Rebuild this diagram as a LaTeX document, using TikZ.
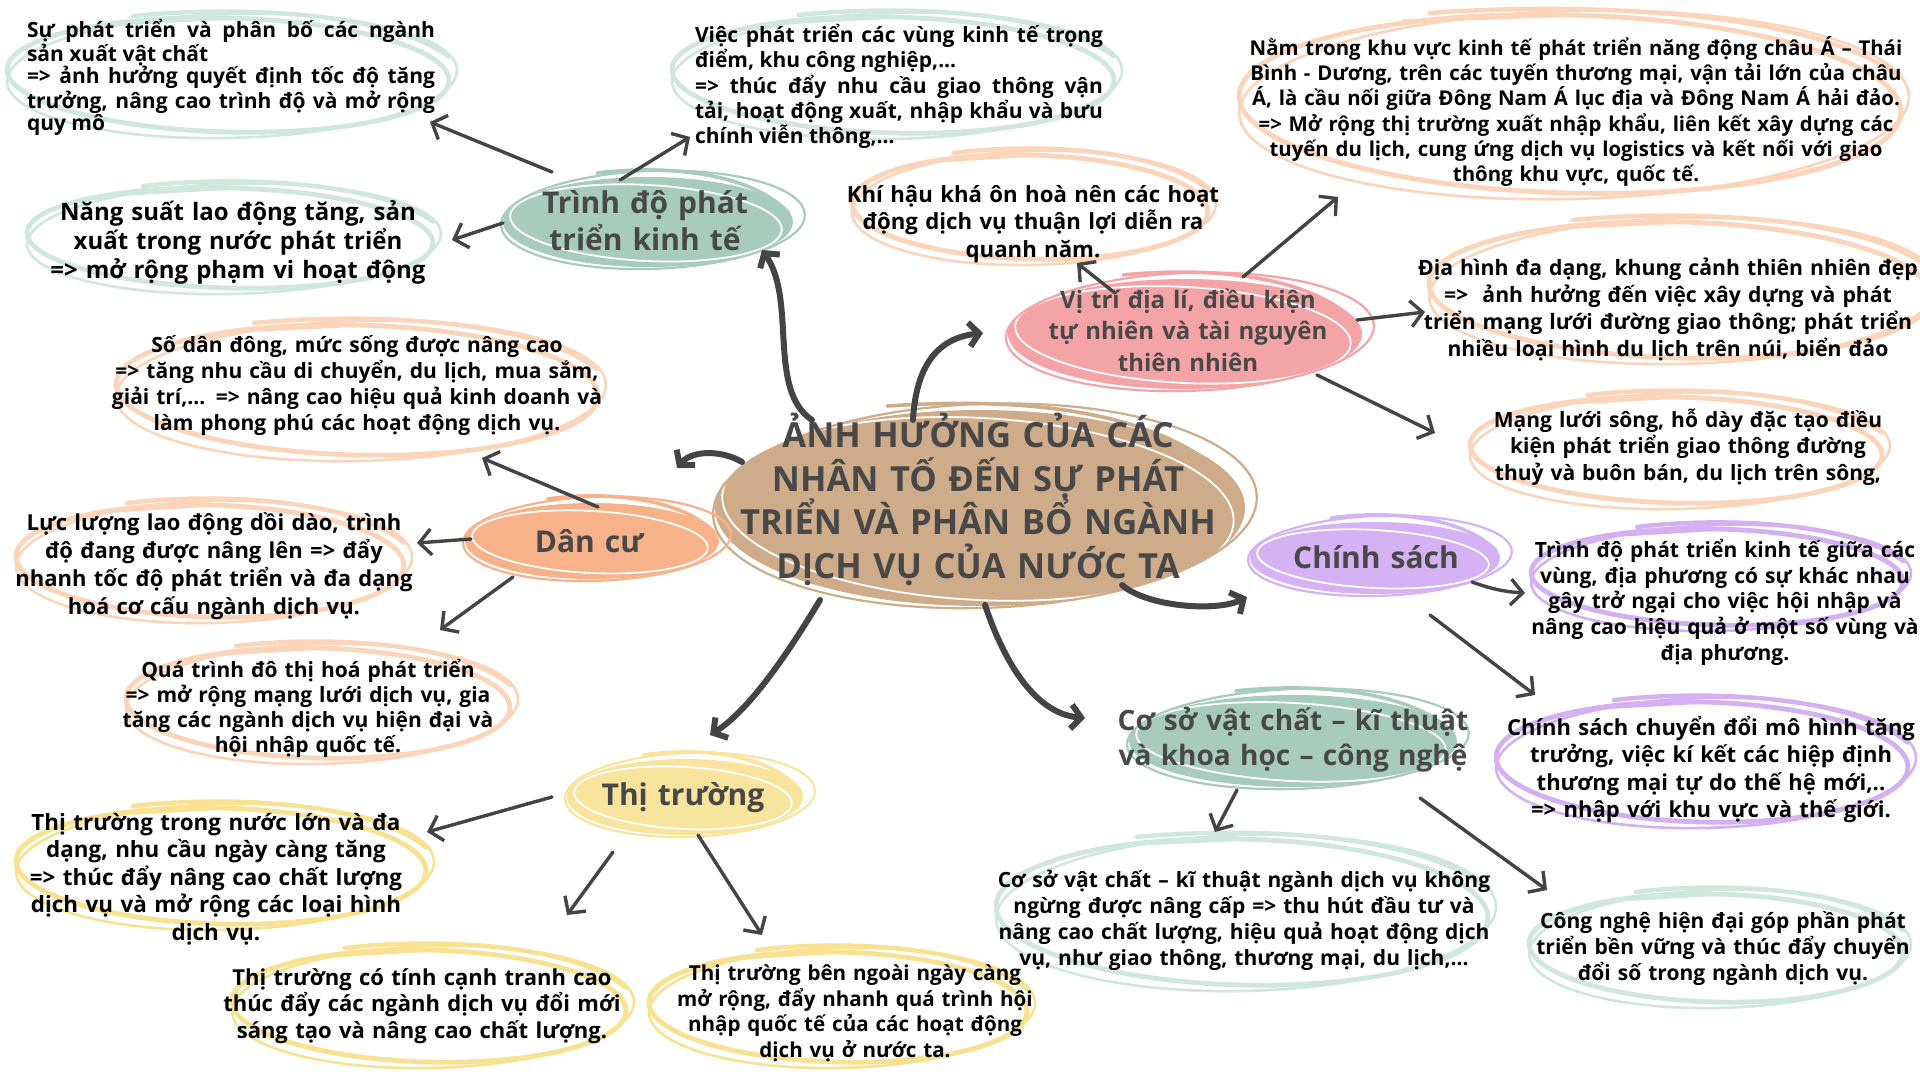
\documentclass[tikz,border=0pt]{standalone}
\usepackage{fontspec}
\setmainfont{Open Sans}
\usetikzlibrary{calc,arrows.meta,shapes.geometric}
\definecolor{grL}{RGB}{207,231,221}
\definecolor{grF}{RGB}{167,203,189}
\definecolor{orL}{RGB}{252,212,186}
\definecolor{orF}{RGB}{248,178,138}
\definecolor{pkF}{RGB}{244,164,166}
\definecolor{tanF}{RGB}{207,172,137}
\definecolor{puL}{RGB}{212,176,242}
\definecolor{puF}{RGB}{212,178,243}
\definecolor{yeL}{RGB}{248,226,145}
\definecolor{yeF}{RGB}{248,228,156}
\definecolor{arr}{RGB}{68,68,68}
\definecolor{hd}{RGB}{72,72,72}
\hyphenpenalty=10000 \exhyphenpenalty=10000 \tolerance=10000
\lineskiplimit=-40pt \lineskip=0pt
\newcommand\topstr{\rule{0pt}{1.25em}}
% sketchy outline bubble: cx, cy, rx, ry, colour
\newcommand\ring[5]{%
 \draw[#5, line width=2.4pt, rotate around={-1.5:(#1,#2)}] (#1,#2) ellipse [x radius={#3-4}, y radius={#4-5}];
 \draw[#5, line width=1.3pt, rotate around={1.5:(#1,#2)}] (#1+4,#2+1) ellipse [x radius={#3}, y radius={#4}];
 \draw[#5, line width=2.2pt, line cap=round] (#1-0.42*#3,#2-#4+3) .. controls (#1,#2-#4-7) and (#1+0.7*#3,#2-#4-3) .. (#1+0.98*#3,#2-0.3*#4);
 \draw[#5, line width=1.6pt, line cap=round] (#1-0.5*#3,#2-#4+11) -- (#1+0.02*#3,#2-#4+5);
}
% filled heading bubble: cx, cy, rx, ry, colour
\newcommand\blob[5]{%
 \fill[#5] (#1,#2) ellipse [x radius={#3}, y radius={#4}];
 \draw[white, line width=0.9pt, rotate around={-3:(#1,#2)}] (#1-2,#2+1) ellipse [x radius={#3-9}, y radius={#4-7}];
 \draw[#5, line width=1.1pt, rotate around={2:(#1,#2)}] (#1+5,#2-2) ellipse [x radius={#3+7}, y radius={#4+4}];
 \draw[#5, line width=1.8pt, line cap=round] (#1-0.35*#3,#2-#4-4) .. controls (#1+0.1*#3,#2-#4-12) and (#1+0.7*#3,#2-#4-6) .. (#1+0.97*#3,#2-0.2*#4);
}
\tikzset{
 hole/.style={ellipse, draw=none, inner sep=0pt},
 tx/.style 2 args={font=\bfseries\fontsize{#1}{#2}\selectfont, inner sep=0pt, anchor=north, align=center, text=black, text width=340pt},
 hx/.style 2 args={tx={#1}{#2}, text=hd},
 jx/.style 2 args={tx={#1}{#2}, align=justify, text width=204pt},
 thin/.style={draw=arr, line width=1.7pt, line cap=round, -{Straight Barb[length=6pt,width=13pt]}},
 bold/.style={draw=arr, line width=3pt, line cap=round, -{Straight Barb[length=5pt,width=12pt]}},
}
\begin{document}
\begin{tikzpicture}[x=0.5pt,y=-0.5pt]
\useasboundingbox (0,0) rectangle (1920,1080);
\fill[white] (0,0) rectangle (1920,1080);
% ---- invisible ellipse nodes (for connectors)
\node[hole, minimum width=225pt, minimum height=62pt] (sxvc) at (228,75) {};
\node[hole, minimum width=207pt, minimum height=55pt] (nsld) at (230,238) {};
\node[hole, minimum width=145pt, minimum height=45pt] (tdkt) at (648,222) {};
\node[hole, minimum width=225pt, minimum height=63pt] (vpt) at (893,75) {};
\node[hole, minimum width=182pt, minimum height=57pt] (khkh) at (1030,207) {};
\node[hole, minimum width=335pt, minimum height=94pt] (nam) at (1570,104) {};
\node[hole, minimum width=177pt, minimum height=55pt] (vt) at (1185,334) {};
\node[hole, minimum width=255pt, minimum height=73pt] (dh) at (1680,290) {};
\node[hole, minimum width=210pt, minimum height=58pt] (ml) at (1676,450) {};
\node[hole, minimum width=265pt, minimum height=98pt] (main) at (980,508) {};
\node[hole, minimum width=125pt, minimum height=36pt] (cs) at (1375,558) {};
\node[hole, minimum width=190pt, minimum height=53pt] (cs1) at (1717,577) {};
\node[hole, minimum width=210pt, minimum height=65pt] (cs2) at (1702,762) {};
\node[hole, minimum width=164pt, minimum height=46pt] (csvc) at (1293,741) {};
\node[hole, minimum width=250pt, minimum height=78pt] (csvc1) at (1242,912) {};
\node[hole, minimum width=191pt, minimum height=59pt] (cn) at (1716,948) {};
\node[hole, minimum width=118pt, minimum height=38pt] (tt) at (685,797) {};
\node[hole, minimum width=209pt, minimum height=63pt] (tt1) at (221,866) {};
\node[hole, minimum width=201pt, minimum height=61pt] (tt2) at (429,1006) {};
\node[hole, minimum width=193pt, minimum height=60pt] (tt3) at (838,1007) {};
\node[hole, minimum width=127pt, minimum height=38pt] (dc) at (592,541) {};
\node[hole, minimum width=245pt, minimum height=70pt] (sd) at (357,390) {};
\node[hole, minimum width=198pt, minimum height=61pt] (ll) at (210,561) {};
\node[hole, minimum width=196pt, minimum height=60pt] (dth) at (318,703) {};
% ---- bubbles
\ring{228}{75}{225}{62}{grL}
\ring{230}{238}{207}{55}{grL}
\ring{893}{75}{225}{63}{grL}
\ring{1030}{207}{182}{57}{orL}
\ring{1570}{104}{335}{94}{orL}
\ring{1680}{290}{255}{73}{orL}
\ring{1676}{450}{210}{58}{orL}
\ring{1717}{577}{190}{53}{puL}
\ring{1702}{762}{210}{65}{puL}
\ring{1242}{912}{250}{78}{grL}
\ring{1716}{948}{191}{59}{grL}
\ring{221}{866}{209}{63}{yeL}
\ring{429}{1006}{201}{61}{yeL}
\ring{838}{1007}{193}{60}{yeL}
\ring{357}{390}{245}{70}{orL}
\ring{210}{561}{198}{61}{orL}
\ring{318}{703}{196}{60}{orL}
\blob{648}{222}{145}{45}{grF}
\blob{1185}{334}{177}{55}{pkF}
\blob{980}{508}{265}{98}{tanF}
\blob{1375}{558}{125}{36}{puF}
\blob{1293}{741}{164}{46}{grF}
\blob{685}{797}{118}{38}{yeF}
\blob{592}{541}{127}{38}{orF}
% ---- main connectors
\draw[bold] ($(main)+(-168,-88)$) .. controls +(-45,-30) and +(35,50) .. ($(tdkt)+(114,28)$);
\draw[bold] ($(main)+(-67,-88)$) .. controls +(3,-55) and +(-45,5) .. ($(vt)+(-202,-1)$);
\draw[bold] ($(main)+(-238,-46)$) .. controls +(-20,-12) and +(15,-18) .. ($(dc)+(85,-73)$);
\draw[bold] ($(main)+(-160,92)$) .. controls +(-30,50) and +(40,-25) .. ($(tt)+(25,-62)$);
\draw[bold] ($(main)+(142,77)$) .. controls +(25,22) and +(-30,15) .. ($(cs)+(-128,39)$);
\draw[bold] ($(main)+(5,97)$) .. controls +(15,45) and +(-55,-5) .. ($(csvc)+(-208,-23)$);
% ---- branch connectors
\draw[thin] ($(tdkt)+(-96,-50)$) -- ($(sxvc)+(202,47)$);
\draw[thin] ($(tdkt)+(-145,1)$) -- ($(nsld)+(222,2)$);
\draw[thin] ($(tdkt)+(-28,-42)$) -- ($(vpt)+(-203,62)$);
\draw[thin] ($(vt)+(-70,-41)$) -- ($(khkh)+(47,56)$);
\draw[thin] ($(vt)+(58,-57)$) -- ($(nam)+(-232,93)$);
\draw[thin] ($(vt)+(172,-14)$) -- ($(dh)+(-255,22)$);
\draw[thin] ($(vt)+(132,41)$) -- ($(ml)+(-241,-17)$);
\draw[thin] ($(cs)+(97,24)$) to[bend right=8] ($(cs1)+(-192,16)$);
\draw[thin] ($(cs)+(55,57)$) -- ($(cs2)+(-167,-67)$);
\draw[thin] ($(csvc)+(-56,49)$) -- ($(csvc1)+(-27,-80)$);
\draw[thin] ($(csvc)+(127,57)$) -- ($(cn)+(-169,-58)$);
\draw[thin] ($(dc)+(6,-34)$) -- ($(sd)+(125,68)$);
\draw[thin] ($(dc)+(-121,-2)$) -- ($(ll)+(207,-18)$);
\draw[thin] ($(dc)+(-79,36)$) -- ($(dth)+(122,-73)$);
\draw[thin] ($(tt)+(-133,0)$) -- ($(tt1)+(206,-34)$);
\draw[thin] ($(tt)+(-72,55)$) -- ($(tt2)+(138,-91)$);
\draw[thin] ($(tt)+(13,38)$) -- ($(tt3)+(-76,-72)$);
% ---- texts
\node[jx={10.5}{11}] (sxvc-t) at (231,10.75) {\topstr Sự phát triển và phân bố các ngành\linebreak sản xuất vật chất\\=> ảnh hưởng quyết định tốc độ tăng\linebreak trưởng, nâng cao trình độ và mở rộng\linebreak quy mô};
\node[tx={12}{14.5}] (nsld-t) at (238,190) {\topstr Năng suất lao động tăng, sản\\ xuất trong nước phát triển\\ => mở rộng phạm vi hoạt động};
\node[hx={15}{18.5}] (tdkt-t) at (645,175.5) {\topstr Trình độ phát\\ triển kinh tế};
\node[jx={10.5}{10.85}] (vpt-t) at (899,15.75) {\topstr Việc phát triển các vùng kinh tế trọng\linebreak điểm, khu công nghiệp,...\\=> thúc đẩy nhu cầu giao thông vận\linebreak tải, hoạt động xuất, nhập khẩu và bưu\linebreak chính viễn thông,...};
\node[tx={11.1}{13.75}] (khkh-t) at (1033,174.25) {\topstr Khí hậu khá ôn hoà nên các hoạt\\ động dịch vụ thuận lợi diễn ra\\ quanh năm.};
\node[tx={10.2}{12.65}] (nam-t) at (1576,29.5) {\topstr Nằm trong khu vực kinh tế phát triển năng động châu Á – Thái\\ Bình - Dương, trên các tuyến thương mại, vận tải lớn của châu\\ Á, là cầu nối giữa Đông Nam Á lục địa và Đông Nam Á hải đảo.\\ => Mở rộng thị trường xuất nhập khẩu, liên kết xây dựng các\\ tuyến du lịch, cung ứng dịch vụ logistics và kết nối với giao\\ thông khu vực, quốc tế.};
\node[hx={12}{15.75}] (vt-t) at (1188,278) {\topstr Vị trí địa lí, điều kiện\\ tự nhiên và tài nguyên\\ thiên nhiên};
\node[tx={10.6}{13.5}] (dh-t) at (1668,248.5) {\topstr Địa hình đa dạng, khung cảnh thiên nhiên đẹp\\ =>\ \ ảnh hưởng đến việc xây dựng và phát\\ triển mạng lưới đường giao thông; phát triển\\ nhiều loại hình du lịch trên núi, biển đảo};
\node[tx={10.5}{13.25}] (ml-t) at (1688,400.75) {\topstr Mạng lưới sông, hỗ dày đặc tạo điều\\ kiện phát triển giao thông đường\\ thuỷ và buôn bán, du lịch trên sông,};
\node[hx={17.3}{21.85}] (main-t) at (978,403.75) {\topstr ẢNH HƯỞNG CỦA CÁC\\ NHÂN TỐ ĐẾN SỰ PHÁT\\ TRIỂN VÀ PHÂN BỔ NGÀNH\\ DỊCH VỤ CỦA NƯỚC TA};
\node[hx={15}{18}] (cs-t) at (1376,530.5) {\topstr Chính sách};
\node[tx={10.5}{12.85}] (cs1-t) at (1725,530.75) {\topstr Trình độ phát triển kinh tế giữa các\\ vùng, địa phương có sự khác nhau\\ gây trở ngại cho việc hội nhập và\\ nâng cao hiệu quả ở một số vùng và\\ địa phương.};
\node[tx={11}{13.75}] (cs2-t) at (1711,707.5) {\topstr Chính sách chuyển đổi mô hình tăng\\ trưởng, việc kí kết các hiệp định\\ thương mại tự do thế hệ mới,..\\ => nhập với khu vực và thế giới.};
\node[hx={14}{17.5}] (csvc-t) at (1293,695) {\topstr Cơ sở vật chất – kĩ thuật\\ và khoa học – công nghệ};
\node[tx={10.5}{13}] (csvc1-t) at (1244,860.75) {\topstr Cơ sở vật chất – kĩ thuật ngành dịch vụ không\\ ngừng được nâng cấp => thu hút đầu tư và\\ nâng cao chất lượng, hiệu quả hoạt động dịch\\ vụ, như giao thông, thương mại, du lịch,...};
\node[tx={10.5}{13}] (cn-t) at (1723,901.75) {\topstr Công nghệ hiện đại góp phần phát\\ triển bền vững và thúc đẩy chuyển\\ đổi số trong ngành dịch vụ.};
\node[hx={15}{18}] (tt-t) at (683,767.5) {\topstr Thị trường};
\node[tx={11.2}{13.75}] (tt1-t) at (216,802) {\topstr Thị trường trong nước lớn và đa\\ dạng, nhu cầu ngày càng tăng\\ => thúc đẩy nâng cao chất lượng\\ dịch vụ và mở rộng các loại hình\\ dịch vụ.};
\node[tx={11}{13.25}] (tt2-t) at (422,957.5) {\topstr Thị trường có tính cạnh tranh cao\\ thúc đẩy các ngành dịch vụ đổi mới\\ sáng tạo và nâng cao chất lượng.};
\node[tx={10.3}{12.85}] (tt3-t) at (855,954.25) {\topstr Thị trường bên ngoài ngày càng\\ mở rộng, đẩy nhanh quá trình hội\\ nhập quốc tế của các hoạt động\\ dịch vụ ở nước ta.};
\node[hx={15}{18}] (dc-t) at (589,514.5) {\topstr Dân cư};
\node[tx={10.5}{13}] (sd-t) at (357,325.75) {\topstr Số dân đông, mức sống được nâng cao\\ => tăng nhu cầu di chuyển, du lịch, mua sắm,\\ giải trí,... => nâng cao hiệu quả kinh doanh và\\ làm phong phú các hoạt động dịch vụ.};
\node[tx={11}{14}] (ll-t) at (214,502.5) {\topstr Lực lượng lao động dồi dào, trình\\ độ đang được nâng lên => đẩy\\ nhanh tốc độ phát triển và đa dạng\\ hoá cơ cấu ngành dịch vụ.};
\node[tx={10.5}{12.5}] (dth-t) at (308,650.75) {\topstr Quá trình đô thị hoá phát triển\\ => mở rộng mạng lưới dịch vụ, gia\\ tăng các ngành dịch vụ hiện đại và\\ hội nhập quốc tế.};
\end{tikzpicture}
\end{document}
